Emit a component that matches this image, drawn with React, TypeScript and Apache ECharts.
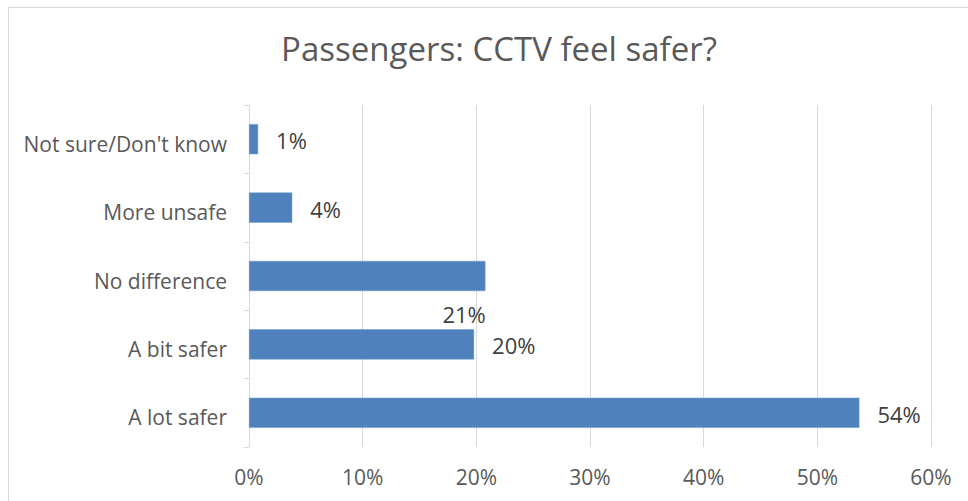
import React, { useEffect, useRef } from "react";
import * as echarts from "echarts";

const categories = ["A lot safer", "A bit safer", "No difference", "More unsafe", "Not sure/Don't know"];
const values = [53.7, 19.8, 20.8, 3.8, 0.8];
const xTicks = [0, 10, 20, 30, 40, 50, 60];

export default function App() {
  const ref = useRef<HTMLDivElement>(null);
  useEffect(() => {
    if (!ref.current) return;
    const chart = echarts.init(ref.current, undefined, { renderer: "svg" });
    const font = "'Open Sans', 'Noto Sans', sans-serif";
    chart.setOption({
      animation: false,
      backgroundColor: "#ffffff",
      textStyle: { fontFamily: font },
      title: {
        text: "Passengers: CCTV feel safer?",
        left: 494,
        top: 27,
        textAlign: "center",
        textStyle: { fontFamily: font, fontSize: 33, fontWeight: "normal", color: "#595959" },
      },
      graphic: [
        {
          type: "rect",
          shape: { x: 8.5, y: 7.5, width: 1000, height: 600 },
          style: { fill: "none", stroke: "#d9d9d9", lineWidth: 1 },
          silent: true,
        },
      ],
      grid: { left: 249, right: 37, top: 105, bottom: 54, containLabel: false },
      xAxis: {
        type: "value",
        min: xTicks[0],
        max: xTicks[xTicks.length - 1],
        interval: 10,
        axisLine: { show: false },
        axisTick: { show: false },
        splitLine: { show: true, lineStyle: { color: "#d9d9d9", width: 1 } },
        axisLabel: {
          formatter: (v: number) => v + "%",
          color: "#595959",
          fontSize: 21,
          fontFamily: font,
          margin: 19,
        },
      },
      yAxis: {
        type: "category",
        data: categories,
        axisLine: { show: true, lineStyle: { color: "#d9d9d9", width: 1 } },
        axisTick: { show: true, length: 5, lineStyle: { color: "#d9d9d9" } },
        axisLabel: {
          margin: 22,
          formatter: (v: string) => "{a|" + v + "}",
          rich: {
            a: {
              color: "#595959",
              fontSize: 21,
              fontFamily: font,
              padding: [9, 0, 0, 0],
            },
          },
        },
      },
      series: [
        {
          type: "bar",
          data: values.map((v, i) =>
            i === 2
              ? { value: v, label: { offset: [-61, 38] } }
              : { value: v }
          ),
          barWidth: "44%",
          itemStyle: { color: "#4f81bd", borderColor: "#6a95cb", borderWidth: 0.5 },
          label: {
            show: true,
            position: "right",
            distance: 18,
            offset: [0, 1],
            formatter: (p: any) => Math.round(p.value) + "%",
            color: "#404040",
            fontSize: 22,
            fontFamily: font,
          },
        },
      ],
    });
    return () => chart.dispose();
  }, []);
  return (
    <div
      ref={ref}
      style={{ position: "absolute", left: 0, top: 0, width: 968, height: 501 }}
    />
  );
}
